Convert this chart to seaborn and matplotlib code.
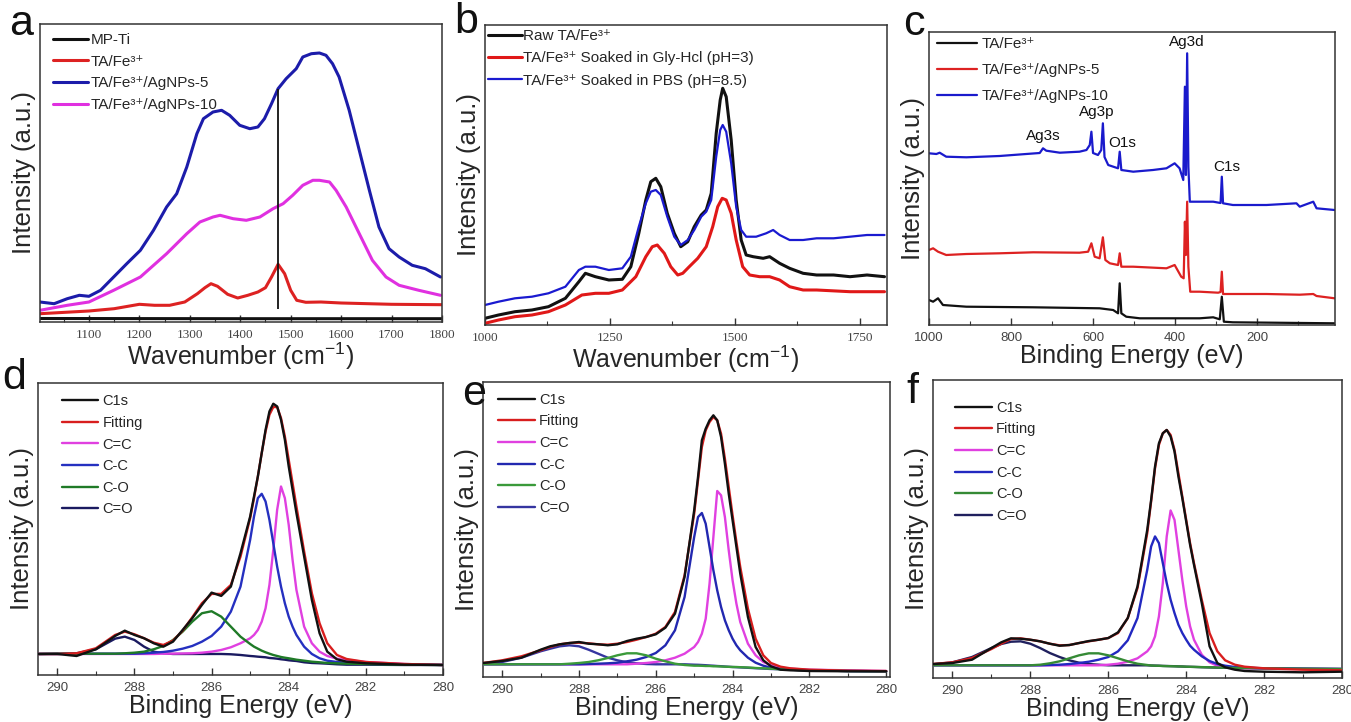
import matplotlib
matplotlib.use("Agg")
import matplotlib.pyplot as plt
from matplotlib.ticker import MultipleLocator
import seaborn as sns

sns.set_style("ticks")
plt.rcParams["font.family"] = ["Liberation Sans", "DejaVu Sans"]
plt.rcParams["mathtext.fontset"] = "custom"
plt.rcParams["mathtext.rm"] = "Liberation Sans"
plt.rcParams["mathtext.it"] = "Liberation Sans:italic"
plt.rcParams["mathtext.bf"] = "Liberation Sans:bold"

# ---------------- (a) Raman spectra ----------------
a_black_wn = [1003, 1200, 1400, 1600, 1800]
a_black_int = [3.5, 3.4, 3.3, 3.3, 3.3]

a_red_wn = [1003, 1100, 1150, 1200, 1230, 1260, 1290, 1315, 1330, 1342, 1355, 1375, 1395,
            1415, 1435, 1450, 1462, 1475, 1488, 1500, 1512, 1530, 1560, 1600, 1700, 1800]
a_red_int = [8.3, 11, 13.3, 17.7, 16.7, 16.7, 20, 28.3, 34.3, 38.3, 35.7, 27.7, 24,
             26.7, 30, 34.3, 45, 57.7, 48.3, 31.7, 21.7, 19.7, 20, 19, 17.7, 17.3]

a_blue_wn = [1003, 1031, 1057, 1081, 1100, 1123, 1149, 1175, 1202, 1228, 1254, 1274, 1294, 1314,
             1327, 1346, 1363, 1379, 1399, 1419, 1435, 1448, 1462, 1475, 1491, 1511, 1524, 1541,
             1557, 1570, 1583, 1596, 1616, 1636, 1656, 1675, 1695, 1715, 1741, 1767, 1797]
a_blue_int = [20, 18.3, 23.3, 26.7, 25.7, 31.7, 45, 58.3, 71.7, 91.7, 115, 128.3, 155, 188.3,
              203.3, 210, 211.7, 206.7, 196.7, 193.3, 195, 203.3, 218.3, 233.3, 243.3, 253.3, 265, 268.3,
              269, 266.7, 258.3, 245, 211.7, 171.7, 131.7, 95, 73.3, 65, 56.7, 53.3, 45]

a_mag_wn = [1003, 1057, 1100, 1149, 1202, 1254, 1294, 1320, 1346, 1360, 1386, 1412, 1439, 1465,
            1485, 1504, 1524, 1544, 1557, 1577, 1590, 1610, 1636, 1662, 1689, 1715, 1754, 1797]
a_mag_int = [11.7, 16.7, 20, 31.7, 45, 68.3, 88.3, 100, 105, 106.7, 103.3, 101.7, 105, 113.3,
             118.3, 126.7, 136.7, 141.7, 141.7, 140, 131.7, 115, 88.3, 61.7, 45, 36.7, 31.7, 26.7]

a_guide_wn = 1475
a_guide_range = [13.3, 233.3]

# ---------------- (b) Raman after soaking ----------------
b_black_wn = [1000, 1027, 1060, 1094, 1127, 1161, 1188, 1201, 1221, 1248, 1275, 1292, 1308, 1322, 1332,
              1342, 1352, 1365, 1379, 1392, 1406, 1419, 1433, 1443, 1453, 1463, 1471, 1476, 1483, 1493,
              1503, 1513, 1523, 1537, 1557, 1570, 1590, 1610, 1637, 1664, 1698, 1731, 1765, 1800]
b_black_int = [6.7, 10, 13.3, 15, 18.3, 26.7, 43.3, 51.7, 48.3, 45, 45.7, 58.3, 91.7, 125, 143.3,
               146.7, 138.3, 111.7, 91.7, 78.3, 83.3, 98.3, 110, 115, 131.7, 191.7, 225, 236.7, 228.3, 185,
               125, 85, 70, 68.3, 66.7, 68.3, 61.7, 56.7, 51.7, 50, 50, 48.3, 50, 48.3]

b_red_wn = [1000, 1027, 1060, 1094, 1127, 1161, 1194, 1221, 1248, 1275, 1302, 1322, 1335, 1345, 1359,
            1372, 1386, 1396, 1409, 1426, 1443, 1456, 1466, 1475, 1483, 1493, 1503, 1516, 1530, 1550,
            1570, 1590, 1610, 1637, 1664, 1731, 1800]
b_red_int = [1.7, 5, 8.3, 10, 13.3, 20, 30, 31.7, 31.7, 35, 48.3, 68.3, 78.3, 80, 71.7,
             58.3, 50, 51.7, 58.3, 66.7, 78.3, 98.3, 118.3, 126.7, 125, 111.7, 85, 58.3, 50, 48.3,
             48.3, 45, 38.3, 35, 35, 33.3, 33.3]

b_blue_wn = [1000, 1027, 1060, 1094, 1127, 1161, 1188, 1201, 1221, 1248, 1275, 1292, 1308, 1322, 1332,
             1342, 1352, 1365, 1379, 1392, 1406, 1419, 1433, 1443, 1453, 1463, 1471, 1476, 1483, 1493,
             1503, 1513, 1523, 1543, 1563, 1577, 1590, 1610, 1637, 1664, 1698, 1731, 1765, 1800]
b_blue_int = [20, 23.3, 26.7, 28.3, 31.7, 38.3, 55, 58.3, 58.3, 55, 56.7, 68.3, 98.3, 121.7, 133.3,
              135, 130, 108.3, 88.3, 80, 85, 95, 108.3, 113.3, 125, 168.3, 195, 200, 193.3, 161.7,
              118.3, 95, 88.3, 88.3, 91.7, 95, 90, 85, 85, 86.7, 86.7, 88.3, 90, 90]

# ---------------- (c) XPS survey ----------------
c_black_be = [1000, 990, 978, 966, 909, 746, 584, 551, 539, 535, 531, 519, 486, 340, 307, 291, 286, 281, 259, 11]
c_black_int = [25, 23.3, 26.7, 20, 18.3, 17.7, 16.7, 15, 11.7, 41.7, 11.7, 8.3, 6.7, 6.7, 7.7, 5.7, 28.3, 3.3, 2.7, 1.7]

c_red_be = [1000, 990, 978, 958, 909, 828, 746, 633, 612, 604, 596, 584, 576, 570, 559, 539, 535, 531, 502,
            421, 401, 385, 379, 376, 373.5, 370.5, 367.5, 363, 340, 295, 289, 286, 283, 259, 177, 96, 63, 55, 11]
c_red_int = [75, 76.7, 73.3, 70, 71, 71.7, 72.7, 72.3, 73.3, 81.7, 68.3, 66.7, 87.7, 65, 61.7, 60, 71.7, 58.3, 58.3,
             56.7, 60, 48.3, 46.7, 103.3, 70, 123.3, 58.3, 33.3, 33.3, 32.3, 33, 53.3, 31, 31, 31, 30.3, 31, 29, 26.7]

c_blue_be = [1000, 982, 974, 958, 909, 828, 763, 730, 722, 714, 681, 633, 616, 608, 604, 600, 588, 580, 576, 572,
             563, 539, 535, 531, 502, 454, 421, 401, 389, 380, 376, 373.5, 370.5, 367.5, 364, 340, 307, 289,
             286, 283, 259, 177, 104, 96, 63, 55, 11]
c_blue_int = [171.7, 171, 172.3, 168.3, 167.7, 169, 171, 172, 176.7, 174.3, 172.3, 173.3, 175, 180, 193.3, 172,
              170, 175, 201.7, 168, 160, 156.7, 173.3, 155, 153.3, 155, 156.7, 161.7, 156.7, 145, 238.3, 150,
              271.7, 158, 123.3, 123.3, 123.3, 122, 148.3, 121.7, 120, 120, 121.7, 118.3, 123.3, 116.7, 115]

c_peak_names = ["Ag3d", "Ag3p", "Ag3s", "O1s", "C1s"]
c_peak_be = [371, 592, 722, 528, 275]
c_peak_int = [283, 213, 189, 182, 158]

# ---------------- (d)-(f) C1s high-resolution ----------------
be_grid = [290.5, 290, 289.5, 289, 288.75, 288.5, 288.25, 288, 287.75, 287.5, 287.25, 287, 286.75, 286.5,
           286.25, 286, 285.75, 285.5, 285.25, 285, 284.9, 284.8, 284.7, 284.6, 284.5, 284.4, 284.3, 284.2,
           284.1, 284, 283.9, 283.8, 283.6, 283.4, 283.2, 283, 282.75, 282.5, 282, 281, 280]

d_c1s = [21, 21, 19, 25.7, 32.3, 39, 44.3, 40, 36.7, 31.7, 28.3, 33.3, 45, 56.7,
         70, 82.3, 79, 88.3, 121.7, 158.3, 178.3, 198.3, 221.7, 245, 263.3, 271, 268.3, 255,
         235, 208.3, 185, 161.7, 118.3, 75, 41.7, 23.3, 15.7, 13.3, 11.7, 10.3, 10]
d_fit = [21, 21, 21.7, 26.7, 33.3, 40, 43.3, 40.7, 36.7, 32.3, 30, 34.3, 44.3, 57.7,
         71.7, 81, 81, 90, 118.3, 156.7, 176.7, 198.3, 221.7, 243.3, 260, 267.7, 267.7, 256.7,
         238.3, 215, 191.7, 168.3, 123.3, 81.7, 51.7, 31.7, 20, 16, 13, 11, 10]
d_cdc = [21, 21, 21, 21, 21, 21, 21, 21, 21, 21, 21.3, 21.3, 21.5, 21.7,
         22.3, 23.3, 25, 27.7, 31.7, 36.7, 40, 45, 53.3, 66.7, 90, 125, 165, 188.3,
         176.7, 150, 115, 85, 48.3, 31.7, 23.3, 19, 16.3, 15, 13, 11, 10]
d_csc = [21, 21.3, 21.3, 21.3, 21.3, 21.3, 21.3, 21.3, 21.7, 22.3, 23, 24.3, 26.3, 29,
         33.3, 39, 48.3, 63.3, 88.3, 135, 158.3, 176.7, 181, 173.3, 155, 131.7, 108.3, 88.3,
         71.7, 58.3, 48.3, 40, 28.3, 21, 16.7, 14.3, 13, 12.3, 11.7, 10.7, 10]
d_cso = [21, 21.3, 21.3, 21.3, 21.3, 21.3, 21.7, 22.3, 23.3, 25.7, 29, 35, 43.3, 53.3,
         61.7, 63.7, 58.3, 48.3, 38.3, 31, 28.3, 26.3, 24.3, 22.7, 21.3, 20, 19, 18,
         17.3, 16.7, 16, 15.3, 14.3, 13.3, 12.7, 12, 11.7, 11.3, 11, 10.3, 10]
d_cdo = [21, 21, 21.7, 25.7, 31, 36.3, 38.3, 35, 28.3, 23.3, 21.7, 21, 21, 21,
         21, 21, 21, 20.7, 20, 19, 18.7, 18.3, 18, 17.7, 17, 16.7, 16.3, 15.7,
         15.3, 14.7, 14.3, 14, 12.7, 12, 11.7, 11.3, 10.7, 10.3, 10.3, 10, 10]

e_c1s = [14, 16, 19.3, 27.3, 30.7, 32.7, 34, 35, 33.3, 32.7, 31.7, 32.7, 36, 38.3,
         40, 42.7, 49.3, 63.3, 100, 166.7, 200, 236.7, 248.3, 256.7, 261.7, 256.7, 240, 213.3,
         183.3, 156.7, 130, 103.3, 60, 30, 16.7, 10.7, 7.3, 6.7, 6, 5.7, 5.7]
e_fit = [14, 16.7, 20.7, 26.7, 30, 32.7, 34, 34.3, 33.7, 32.7, 32.3, 33.3, 35, 37.3,
         40, 43.3, 50, 65, 101.7, 163.3, 196.7, 230, 246.7, 255, 260, 256.7, 243.3, 218.3,
         190, 161.7, 135, 110, 68.3, 38.3, 21.7, 14, 10.3, 8.7, 7.3, 6.3, 6]
e_cdc = [12.7, 12.7, 12.7, 12.7, 12.7, 12.7, 12.7, 12.7, 12.7, 12.7, 12.7, 12.7, 12.7, 13.3,
         14, 15, 16.7, 19.3, 23.3, 30, 35, 43.3, 58.3, 93.3, 140, 186, 181.7, 160,
         126.7, 96.7, 73.3, 55, 33.3, 21.7, 15, 11.7, 9.3, 8.3, 7.3, 6.7, 6]
e_csc = [12.7, 12.7, 12.7, 12.7, 12.7, 12.7, 12.7, 12.7, 13, 13.3, 13.7, 14.3, 15.7, 17.3,
         20, 24, 31.7, 46.7, 80, 140, 160, 164, 153.3, 130, 106.7, 86.7, 70, 56.7,
         46.7, 38.3, 31.7, 26.7, 19.3, 14.3, 11.3, 9.3, 8, 7.3, 6.7, 6, 5.7]
e_cso = [12.7, 12.7, 12.7, 12.7, 12.7, 12.7, 13.3, 14, 15, 16.7, 19, 21.7, 23.7, 23.7,
         21.7, 18.3, 15.7, 13.3, 12, 11.3, 11.3, 11.2, 11, 11, 10.7, 10.7, 10.5, 10.3,
         10.2, 10, 10, 9.8, 9.5, 9, 8.7, 8.3, 7.7, 7.3, 6.7, 6, 5.7]
e_cdo = [13.3, 15, 19.3, 25.7, 28.3, 30.7, 31.7, 30.7, 27.3, 23.3, 19.3, 16.7, 14.7, 13.7,
         13, 12.7, 12.7, 12.7, 12.7, 12.3, 12.2, 12, 11.8, 11.5, 11.3, 11, 10.8, 10.5,
         10.2, 10, 9.8, 9.6, 9.2, 8.8, 8.4, 8, 7.7, 7.3, 6.7, 6, 5.7]

f_c1s = [14, 15, 18.3, 30, 35.7, 39.7, 39.3, 38.3, 36.7, 34.3, 32.3, 33, 35, 37,
         38.3, 40, 45.7, 60, 91.7, 148.3, 178.3, 211.7, 235, 245, 248.3, 241.7, 226.7, 201.7,
         180, 156.7, 133.3, 113.3, 75, 31.7, 15, 10.7, 8.3, 7, 6.3, 5.7, 6.3]
f_fit = [14, 15.7, 20, 29, 34.3, 39, 39.7, 38.3, 36.7, 34.3, 32.7, 33, 35, 36.7,
         38.3, 40, 45, 60, 90, 145, 176.7, 210, 233.3, 245, 248.3, 243.3, 228.3, 205,
         181.7, 158.3, 135, 115, 78.3, 45, 26.7, 17.7, 13.3, 11.3, 9.7, 8.3, 7.7]
f_cdc = [12.7, 12.7, 12.7, 12.7, 12.7, 12.7, 12.7, 12.7, 12.7, 12.7, 12.7, 12.7, 12.7, 12.7,
         12.7, 13.3, 14.3, 16.3, 19.7, 26.7, 31.7, 41.7, 61.7, 95, 141.7, 167.7, 158.3, 128.3,
         98.3, 71.7, 51.7, 38.3, 23.3, 15.7, 12.3, 10.7, 10, 9.7, 9.3, 9, 9]
f_csc = [12.7, 12.7, 12.7, 12.7, 12.7, 12.7, 12.7, 12.7, 12.7, 13, 13.3, 14, 15, 16.3,
         18.3, 21, 26.7, 37.7, 60, 108.3, 131.7, 141.7, 135, 115, 95, 78.3, 65, 53.3,
         45, 38.3, 32.3, 28.3, 21.7, 17, 14, 12.3, 11, 10.3, 9.7, 9.3, 9]
f_cso = [12.7, 12.7, 12.7, 12.7, 12.7, 12.7, 12.7, 12.7, 13.3, 14.7, 16.7, 19.7, 22.7, 24.7,
         24.7, 22.7, 19.7, 16.7, 14.3, 13, 12.5, 12.3, 12.2, 12, 11.9, 11.8, 11.7, 11.6,
         11.5, 11.3, 11.2, 11.1, 10.9, 10.7, 10.5, 10.3, 10.1, 10, 9.7, 9.3, 9]
f_cdo = [13.7, 15.7, 21, 30, 34, 36.3, 36.7, 34.3, 30, 25, 21, 17.7, 15.3, 14,
         13.3, 12.7, 12.7, 12.7, 12.7, 12.7, 12.5, 12.4, 12.3, 12.1, 12, 11.9, 11.8, 11.6,
         11.5, 11.3, 11.2, 11.1, 10.8, 10.6, 10.4, 10.3, 10.1, 10, 9.7, 9.3, 9]

xps_labels = ["C1s", "Fitting", "C=C", "C-C", "C-O", "C=O"]

# ---------------- figure ----------------
W, H = 1351, 722
fig = plt.figure(figsize=(W / 100, H / 100), dpi=100)


def add_panel(l, t, r, b):
    return fig.add_axes([l / W, 1 - b / H, (r - l) / W, (b - t) / H])


def style(ax, xlim, ylim, major, minor, xlabel, serif=False):
    ax.set_xlim(*xlim)
    ax.set_ylim(*ylim)
    ax.set_yticks([])
    ax.xaxis.set_major_locator(MultipleLocator(major))
    ax.xaxis.set_minor_locator(MultipleLocator(minor))
    ax.tick_params(axis="x", which="major", direction="in", length=5, width=1,
                   pad=5, labelsize=9.5, labelcolor="#444444", color="#333333",
                   top=False, bottom=True)
    ax.tick_params(axis="x", which="minor", direction="in", length=3, width=0.8,
                   color="#333333", top=False)
    if serif:
        for lab in ax.get_xticklabels():
            lab.set_fontfamily("Liberation Serif")
    for sp in ax.spines.values():
        sp.set_visible(True)
        sp.set_color("#333333")
        sp.set_linewidth(1.1)
    ax.set_xlabel(xlabel, fontsize=18, labelpad=0)
    ax.set_ylabel("Intensity (a.u.)", fontsize=18.5, labelpad=3)


def line(ax, x, y, color, lw, label=None, z=2):
    sns.lineplot(x=x, y=y, ax=ax, color=color, lw=lw, label=label,
                 sort=False, estimator=None, zorder=z)


def legend(ax, x, y, ls, hl=2.4, pad=0.3, fs=11):
    ax.legend(loc="upper left", bbox_to_anchor=(x, y), frameon=False, fontsize=fs,
              handlelength=hl, handletextpad=pad, labelspacing=ls,
              borderpad=0, borderaxespad=0)


fe3 = "TA/Fe³⁺"

# (a)
ax = add_panel(40, 24, 442, 322)
line(ax, a_black_wn, a_black_int, "#111111", 2.2, "MP-Ti")
line(ax, a_red_wn, a_red_int, "#dd2222", 2.2, fe3)
line(ax, a_blue_wn, a_blue_int, "#1c1caa", 2.2, fe3 + "/AgNPs-5")
line(ax, a_mag_wn, a_mag_int, "#e030e0", 2.2, fe3 + "/AgNPs-10")
ax.vlines(a_guide_wn, a_guide_range[0], a_guide_range[1], color="#111111", lw=1.3, zorder=3)
style(ax, (1003, 1800), (0, 298), 100, 50, r"Wavenumber (cm$^{-1}$)", serif=True)
legend(ax, 0.032, 0.97, 0.5, hl=2.3, pad=0.15)

# (b)
ax = add_panel(485, 25, 887, 325)
line(ax, b_black_wn, b_black_int, "#111111", 2.2, "Raw " + fe3)
line(ax, b_red_wn, b_red_int, "#e01818", 2.2, fe3 + " Soaked in Gly-Hcl (pH=3)")
line(ax, b_blue_wn, b_blue_int, "#1a1ad0", 1.6, fe3 + " Soaked in PBS (pH=8.5)")
style(ax, (1000, 1805), (0, 300), 250, 125, r"Wavenumber (cm$^{-1}$)", serif=True)
legend(ax, 0.008, 0.987, 0.55, hl=2.2, pad=0.1)

# (c)
ax = add_panel(929, 32, 1335, 325)
line(ax, c_black_be, c_black_int, "#111111", 1.6, fe3)
line(ax, c_red_be, c_red_int, "#dd2222", 1.6, fe3 + "/AgNPs-5")
line(ax, c_blue_be, c_blue_int, "#1a1acc", 1.6, fe3 + "/AgNPs-10")
for name, xb, yi in zip(c_peak_names, c_peak_be, c_peak_int):
    ax.text(xb, yi, name, ha="center", va="center", fontsize=11, color="#111111")
style(ax, (1000, 10), (0, 293), 200, 100, "Binding Energy (eV)")
legend(ax, 0.02, 0.983, 0.8, hl=2.6, pad=0.3)

# (d)-(f)
xps_panels = [
    ((38, 383, 443, 675), (290.5, 280), 291.7,
     [d_c1s, d_fit, d_cdc, d_csc, d_cso, d_cdo],
     ["#111111", "#d81e1e", "#e040e0", "#2530c0", "#1f7a27", "#1a1a60"], (0.059, 0.961)),
    ((483, 382, 890, 677), (290.5, 279.9), 295,
     [e_c1s, e_fit, e_cdc, e_csc, e_cso, e_cdo],
     ["#111111", "#d81e1e", "#e040e0", "#2228b0", "#3a9a3a", "#3535a0"], (0.037, 0.963)),
    ((933, 380, 1342, 678), (290.5, 280), 298.3,
     [f_c1s, f_fit, f_cdc, f_csc, f_cso, f_cdo],
     ["#111111", "#d81e1e", "#e040e0", "#2228c0", "#358a35", "#20205e"], (0.054, 0.93)),
]
for box, xlim, ytop, series, colors, lpos in xps_panels:
    ax = add_panel(*box)
    zs = [5, 4, 3, 3, 3, 2]
    for vals, col, lab, z in zip(series, colors, xps_labels, zs):
        line(ax, be_grid, vals, col, 1.7, lab, z)
    style(ax, xlim, (0, ytop), 2, 1, "Binding Energy (eV)")
    legend(ax, lpos[0], lpos[1], 0.52, hl=2.5, pad=0.3, fs=10.5)

# panel letters
for letter, px, py in [("a", 9, 35), ("b", 454, 33), ("c", 903, 35),
                       ("d", 2, 389), ("e", 462, 405), ("f", 906, 403)]:
    fig.text(px / W, 1 - py / H, letter, fontsize=31, va="baseline", ha="left", color="#111111")

fig.savefig("out.png", dpi=100)
